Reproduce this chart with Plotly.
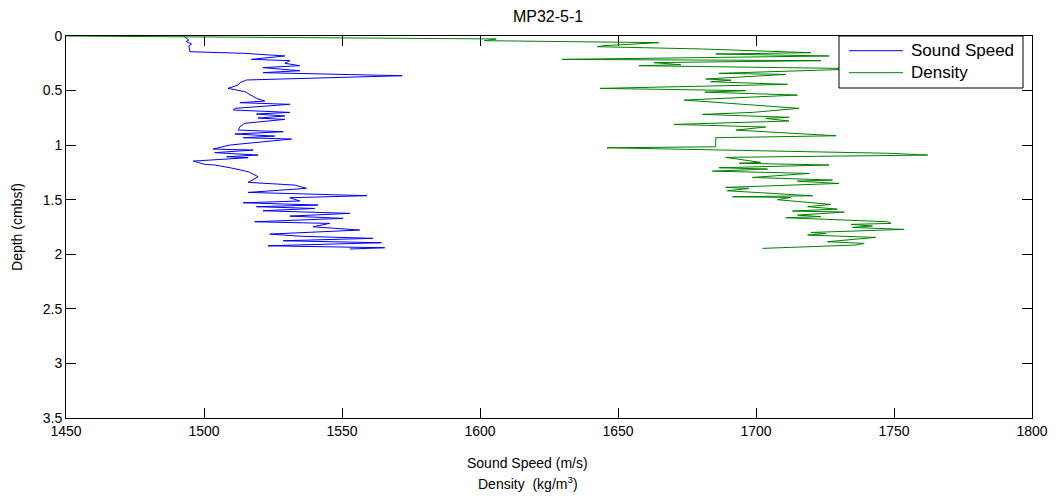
import plotly.graph_objects as go

# Sound speed profile (m/s) vs depth
speed_depth = [0, 0.037, 0.05, 0.073, 0.09, 0.144, 0.159, 0.183, 0.214, 0.226, 0.25, 0.272, 0.29, 0.318,
               0.336, 0.364, 0.403, 0.428, 0.449, 0.48, 0.51, 0.541, 0.571, 0.596, 0.611, 0.626, 0.663,
               0.678, 0.7, 0.715, 0.733, 0.752, 0.764, 0.8, 0.831, 0.862, 0.877, 0.898, 0.917, 0.932,
               0.944, 0.999, 1.036, 1.045, 1.069, 1.091, 1.106, 1.115, 1.146, 1.176, 1.182, 1.207, 1.243,
               1.289, 1.341, 1.366, 1.396, 1.433, 1.463, 1.482, 1.512, 1.528, 1.549, 1.564, 1.58, 1.601,
               1.625, 1.65, 1.671, 1.702, 1.717, 1.748, 1.778, 1.815, 1.835, 1.854, 1.876, 1.894, 1.922,
               1.94, 1.952]
speed = [1492.5, 1494.5, 1493.5, 1495.5, 1494.5, 1494.9, 1514.8, 1529.3, 1517.2, 1531.1, 1529.3, 1534.7,
         1521.4, 1534.7, 1521.4, 1571.8, 1515.4, 1513.0, 1512.4, 1508.7, 1514.8, 1517.2, 1519.0, 1522.0,
         1513.0, 1531.1, 1511.2, 1510.6, 1531.1, 1519.0, 1529.3, 1519.6, 1529.3, 1514.8, 1513.0, 1512.4,
         1528.7, 1511.2, 1525.6, 1514.2, 1531.7, 1509.4, 1503.3, 1517.8, 1503.9, 1519.6, 1508.2, 1516.0,
         1496.1, 1500.3, 1503.9, 1509.4, 1516.0, 1519.6, 1516.0, 1532.9, 1537.1, 1516.0, 1559.0, 1531.1,
         1534.7, 1514.2, 1541.3, 1519.0, 1540.1, 1521.4, 1552.8, 1531.1, 1550.4, 1518.4, 1545.5, 1539.5,
         1556.4, 1523.8, 1535.3, 1561.2, 1528.7, 1564.3, 1523.2, 1565.5, 1552.8]

# Density profile (kg/m^3) vs depth
density_depth = [0, 0.027, 0.043, 0.061, 0.082, 0.088, 0.098, 0.119, 0.153, 0.165, 0.183, 0.214, 0.226,
                 0.244, 0.263, 0.272, 0.30, 0.342, 0.352, 0.394, 0.405, 0.419, 0.443, 0.48, 0.501, 0.515,
                 0.541, 0.587, 0.663, 0.70, 0.718, 0.745, 0.755, 0.779, 0.81, 0.834, 0.862, 0.914, 0.932,
                 1.015, 1.024, 1.051, 1.075, 1.091, 1.112, 1.158, 1.166, 1.182, 1.207, 1.219, 1.238, 1.259,
                 1.296, 1.32, 1.33, 1.351, 1.387, 1.397, 1.418, 1.464, 1.473, 1.479, 1.50, 1.543, 1.564,
                 1.586, 1.604, 1.613, 1.641, 1.655, 1.665, 1.702, 1.717, 1.726, 1.74, 1.754, 1.772, 1.80,
                 1.81, 1.824, 1.845, 1.885, 1.893, 1.90, 1.915, 1.946]
density = [1450.0, 1605.9, 1601.6, 1664.8, 1650.0, 1645.0, 1642.5, 1680.6, 1719.9, 1685.4, 1726.5, 1629.8,
           1723.5, 1663.0, 1672.7, 1657.6, 1740.0, 1686.6, 1710.8, 1681.8, 1691.0, 1683.6, 1711.4, 1643.5,
           1696.3, 1681.5, 1715.0, 1674.0, 1715.6, 1698.7, 1680.6, 1712.0, 1703.5, 1712.0, 1670.3, 1703.5,
           1692.7, 1729.0, 1685.4, 1685.4, 1646.0, 1694.5, 1748.9, 1762.2, 1689.0, 1701.7, 1693.9, 1726.5,
           1686.6, 1704.2, 1684.2, 1719.3, 1698.7, 1727.7, 1715.0, 1730.1, 1689.0, 1697.5, 1689.6, 1720.5,
           1691.5, 1712.6, 1707.8, 1727.1, 1718.7, 1729.5, 1713.2, 1732.0, 1715.0, 1723.5, 1710.8, 1747.7,
           1748.9, 1734.4, 1742.2, 1735.0, 1753.7, 1719.9, 1725.3, 1718.7, 1743.4, 1725.9, 1737.4, 1739.2,
           1736.2, 1702.3]

series_names = ["Sound Speed", "Density"]
series_colors = ["rgb(0,0,255)", "rgb(0,128,0)"]
x_ticks = [1450, 1500, 1550, 1600, 1650, 1700, 1750, 1800]
y_ticks = [0, 0.5, 1, 1.5, 2, 2.5, 3, 3.5]

fig = go.Figure()
fig.add_trace(go.Scatter(x=speed, y=speed_depth, mode="lines", name=series_names[0],
                         line=dict(color=series_colors[0], width=1)))
fig.add_trace(go.Scatter(x=density, y=density_depth, mode="lines", name=series_names[1],
                         line=dict(color=series_colors[1], width=1)))

font_family = "Liberation Sans, Arial, Helvetica, sans-serif"
axis_common = dict(showgrid=False, zeroline=False, showline=True, linecolor="black", linewidth=1,
                   mirror="ticks", ticks="inside", ticklen=10, tickcolor="black", tickwidth=1,
                   layer="below traces", tickfont=dict(size=14, color="black"), automargin=False)

# MATLAB-style legend box (paper coordinates relative to the plot area)
L, R, T, B = 66, 1032, 36, 418
def px(xp):
    return (xp - L) / (R - L)
def py(yp):
    return (B - yp) / (B - T)

shapes = [dict(type="rect", xref="paper", yref="paper", x0=px(839), x1=px(1023), y0=py(88), y1=py(36),
               fillcolor="white", line=dict(color="black", width=1), layer="above")]
annotations = []
for i, (nm, col) in enumerate(zip(series_names, series_colors)):
    yrow = 50.7 + 22 * i
    shapes.append(dict(type="line", xref="paper", yref="paper", x0=px(849), x1=px(903),
                       y0=py(yrow), y1=py(yrow), line=dict(color=col, width=1), layer="above"))
    annotations.append(dict(text=nm, xref="paper", yref="paper", x=px(909), y=py(yrow),
                            xanchor="left", yanchor="middle", showarrow=False,
                            font=dict(size=17, color="black")))

annotations += [
    dict(text="Sound Speed (m/s)", xref="paper", yref="paper", x=0.478, y=-0.118,
         xanchor="center", yanchor="middle", showarrow=False, font=dict(size=14)),
    dict(text="Density  (kg/m<sup>3</sup>)", xref="paper", yref="paper", x=0.478, y=-0.170,
         xanchor="center", yanchor="middle", showarrow=False, font=dict(size=14)),
]

fig.update_layout(
    width=1058, height=502,
    margin=dict(l=66, r=26, t=36, b=84),
    paper_bgcolor="white", plot_bgcolor="white",
    font=dict(family=font_family, size=14, color="black"),
    title=dict(text="MP32-5-1", x=0.518, xanchor="center", y=0.967, yanchor="middle",
               font=dict(size=16, color="black")),
    xaxis=dict(range=[1450, 1800], tickvals=x_ticks, ticktext=[str(v) for v in x_ticks], **axis_common),
    yaxis=dict(range=[3.5, 0], tickvals=y_ticks, ticktext=["0", "0.5", "1", "1.5", "2", "2.5", "3", "3.5"],
               title=dict(text="Depth (cmbsf)", standoff=16, font=dict(size=14)),
               **axis_common),
    showlegend=False,
    shapes=shapes,
    annotations=annotations,
)

fig.write_html("out.html", config={"displayModeBar": False},
               post_script="document.body.style.margin='0px';")
